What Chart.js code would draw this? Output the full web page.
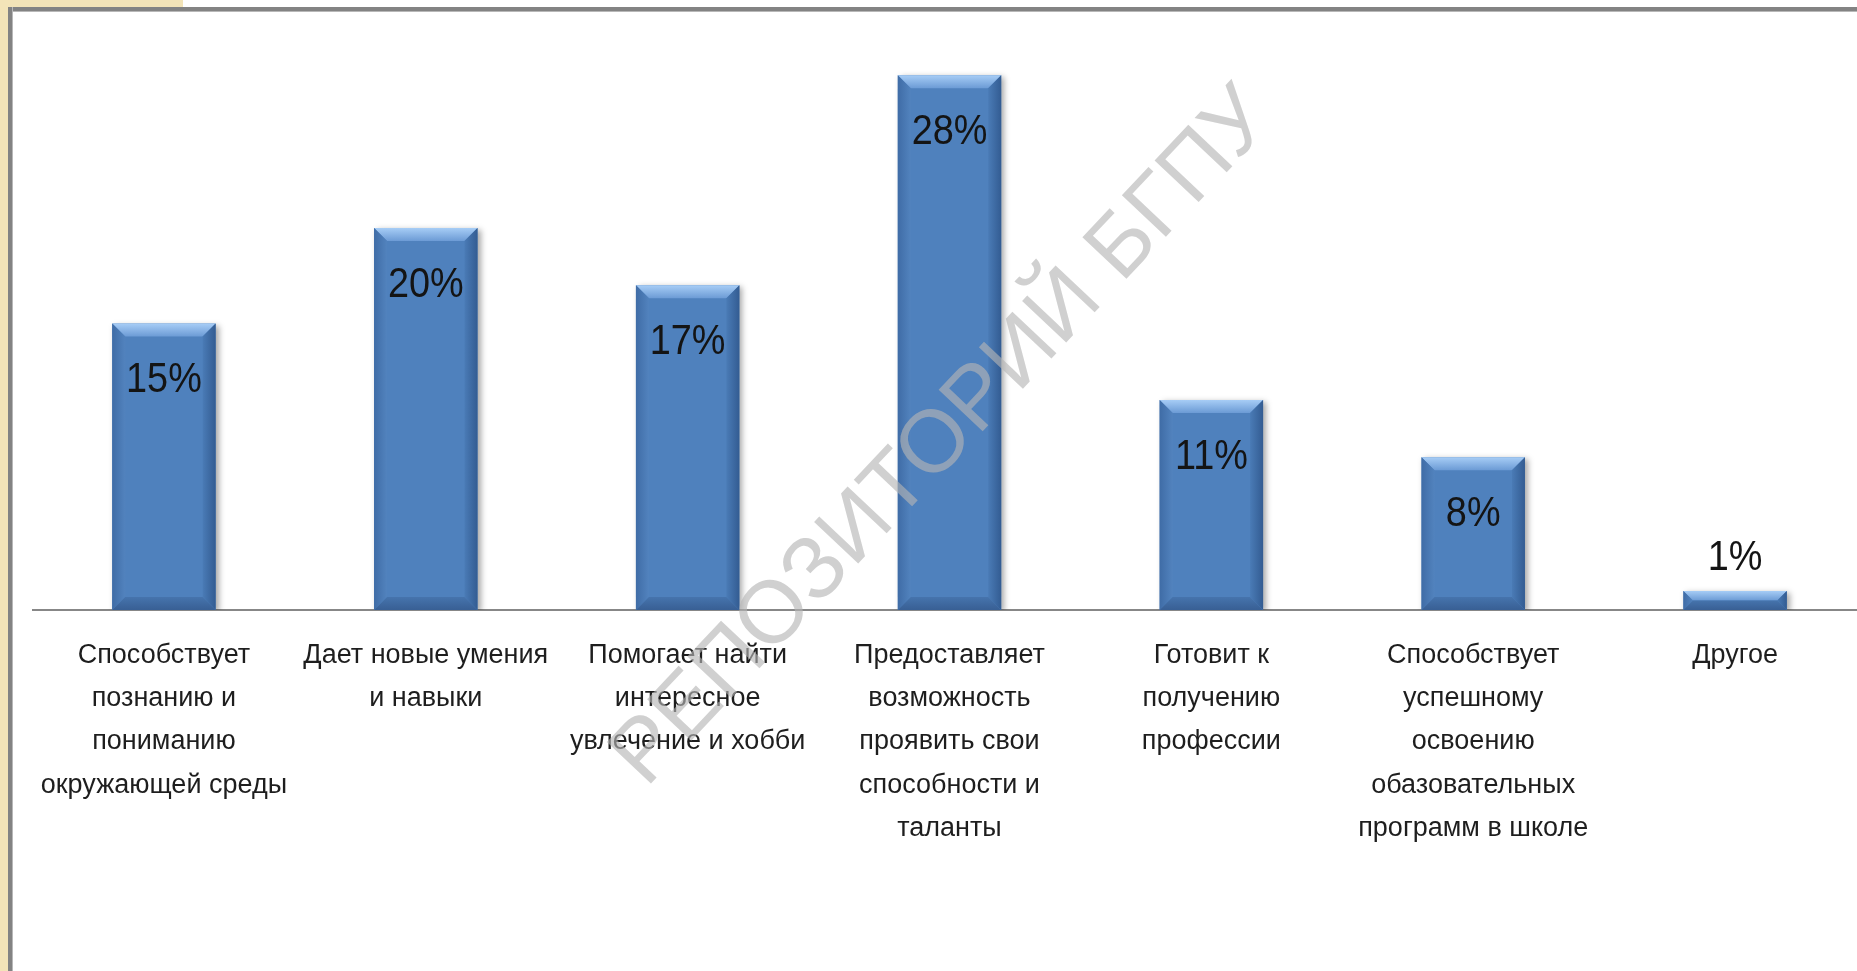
<!DOCTYPE html>
<html>
<head>
<meta charset="utf-8">
<script src="https://cdn.jsdelivr.net/npm/chart.js@4.4.1/dist/chart.umd.min.js"></script>
<style>
    html, body { margin: 0; padding: 0; background: #fff; overflow: hidden; }
    #wrap { position: relative; width: 1857px; height: 971px; overflow: hidden; }
    #chart { position: absolute; left: 0; top: 0; }
    .beige { position: absolute; background: #f3e4b8; }
    .frame { position: absolute; background: #838383; }
</style>
</head>
<body>
<div id="wrap">
    <canvas id="chart" width="1870" height="971"></canvas>
    <div class="beige" style="left:0;top:0;width:8px;height:971px;"></div>
    <div class="beige" style="left:0;top:0;width:183px;height:7px;"></div>
    <div class="frame" style="left:8px;top:7px;width:1849px;height:4px;border-bottom:1px solid #b8b8b8;"></div>
    <div class="frame" style="left:8px;top:7px;width:4px;height:964px;border-right:1px solid #b8b8b8;"></div>
</div>
<script>
const categories = [
    ['Способствует', 'познанию и', 'пониманию', 'окружающей среды'],
    ['Дает новые умения', 'и навыки'],
    ['Помогает найти', 'интересное', 'увлечение и хобби'],
    ['Предоставляет', 'возможность', 'проявить свои', 'способности и', 'таланты'],
    ['Готовит к', 'получению', 'профессии'],
    ['Способствует', 'успешному', 'освоению', 'обазовательных', 'программ в школе'],
    ['Другое']
];
const percents = [15, 20, 17, 28, 11, 8, 1];

const barColor = '#4f81bd';

function poly(ctx, pts, fill) {
    ctx.beginPath();
    ctx.moveTo(pts[0][0], pts[0][1]);
    for (let i = 1; i < pts.length; i++) ctx.lineTo(pts[i][0], pts[i][1]);
    ctx.closePath();
    ctx.fillStyle = fill;
    ctx.fill();
}

// soft shadow under the bars + bevelled edges like the office chart
const bevel = {
    id: 'bevel',
    beforeDatasetsDraw(chart) {
        const ctx = chart.ctx;
        ctx.save();
        ctx.shadowColor = 'rgba(0,0,0,0.35)';
        ctx.shadowBlur = 6;
        ctx.shadowOffsetX = 3;
        ctx.shadowOffsetY = 2;
    },
    afterDatasetsDraw(chart) {
        const ctx = chart.ctx;
        ctx.restore();
        chart.getDatasetMeta(0).data.forEach(bar => {
            const p = bar.getProps(['x', 'y', 'base', 'width'], true);
            const l = p.x - p.width / 2, r = p.x + p.width / 2, t = p.y, b = p.base;
            const d = Math.min(13, (b - t) / 2);
            let g = ctx.createLinearGradient(0, t, 0, t + d);
            g.addColorStop(0, '#a7cdf6');
            g.addColorStop(1, '#6c9bd5');
            poly(ctx, [[l, t], [r, t], [r - d, t + d], [l + d, t + d]], g);
            g = ctx.createLinearGradient(l, 0, l + d, 0);
            g.addColorStop(0, '#3f6ca6');
            g.addColorStop(1, '#5283be');
            poly(ctx, [[l, t], [l + d, t + d], [l + d, b - d], [l, b]], g);
            g = ctx.createLinearGradient(r - d, 0, r, 0);
            g.addColorStop(0, '#4a7bb6');
            g.addColorStop(1, '#335c92');
            poly(ctx, [[r, t], [r, b], [r - d, b - d], [r - d, t + d]], g);
            g = ctx.createLinearGradient(0, b - d, 0, b);
            g.addColorStop(0, '#4674ad');
            g.addColorStop(1, '#385f94');
            poly(ctx, [[l, b], [l + d, b - d], [r - d, b - d], [r, b]], g);
        });
    }
};

const valueLabels = {
    id: 'valueLabels',
    afterDatasetsDraw(chart) {
        const ctx = chart.ctx;
        chart.getDatasetMeta(0).data.forEach((bar, i) => {
            const v = percents[i];
            const y = v < 3 ? bar.y - 33 : bar.y + 57;
            ctx.save();
            ctx.translate(bar.x, y);
            ctx.scale(0.88, 1); // condensed look
            ctx.font = '43px "Liberation Sans", sans-serif';
            ctx.fillStyle = '#141414';
            ctx.textAlign = 'center';
            ctx.textBaseline = 'middle';
            ctx.fillText(v + '%', 0, 0);
            ctx.restore();
        });
    }
};

const watermark = {
    id: 'watermark',
    afterDraw(chart) {
        const ctx = chart.ctx;
        ctx.save();
        ctx.translate(943, 438);
        ctx.rotate(-46.7 * Math.PI / 180);
        ctx.font = '88px "Liberation Sans", sans-serif';
        ctx.fillStyle = 'rgba(180,180,180,0.63)';
        ctx.textAlign = 'center';
        ctx.textBaseline = 'middle';
        ctx.fillText('РЕПОЗИТОРИЙ БГПУ', 0, 0);
        ctx.restore();
    }
};

new Chart(document.getElementById('chart'), {
    type: 'bar',
    data: {
        labels: categories,
        datasets: [{
            data: percents,
            backgroundColor: barColor,
            borderWidth: 0,
            categoryPercentage: 1,
            barPercentage: 0.395,
        }]
    },
    options: {
        responsive: false,
        animation: false,
        devicePixelRatio: 1,
        layout: {
            padding: { left: 33, right: 4, top: 37, bottom: 97 }
        },
        scales: {
            x: {
                grid: { display: false, drawTicks: false },
                border: { display: true, color: '#878787', width: 2 },
                ticks: {
                    autoSkip: false,
                    maxRotation: 0,
                    padding: 24,
                    color: '#1e1e1e',
                    font: { family: '"Liberation Sans", sans-serif', size: 27, lineHeight: 1.6 }
                }
            },
            y: {
                display: false,
                min: 0,
                max: 30,
            }
        },
        plugins: {
            legend: { display: false },
            tooltip: { enabled: false }
        }
    },
    plugins: [bevel, valueLabels, watermark]
});
</script>
</body>
</html>
